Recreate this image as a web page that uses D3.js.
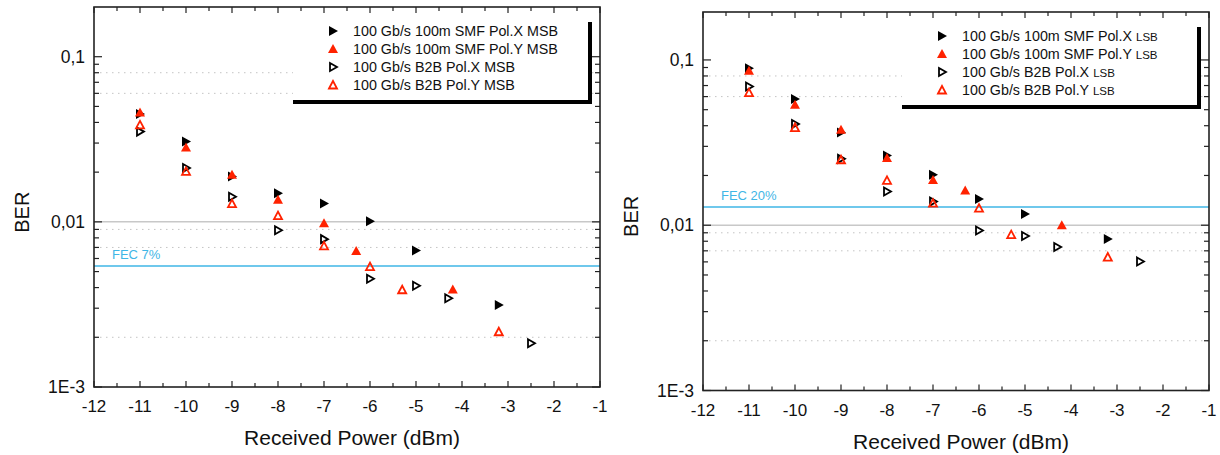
<!DOCTYPE html>
<html>
<head>
<meta charset="utf-8">
<script src="https://cdn.jsdelivr.net/npm/d3@7"></script>
<style>
body {margin: 0; background: #fff;}
text {font-family: "Liberation Sans", Arial, sans-serif;}
</style>
</head>
<body>
<svg id="chart" width="1220" height="455"></svg>
<script>
// axis ticks
var xTicks = [-12, -11, -10, -9, -8, -7, -6, -5, -4, -3, -2, -1];
var yTicks = [0.1, 0.01, 0.001];
var yTickLabels = ["0,1", "0,01", "1E-3"];
var yMinor = [0.002, 0.003, 0.004, 0.005, 0.006, 0.007, 0.008, 0.009,
              0.02, 0.03, 0.04, 0.05, 0.06, 0.07, 0.08, 0.09];
var dottedGrid = [0.08, 0.06, 0.009, 0.007, 0.002];
var solidGrid = [0.01];

// MSB (left panel), [received power dBm, BER]
var msbSmfX = [[-11, 0.045], [-10, 0.0307], [-9, 0.0188], [-8, 0.0149], [-7, 0.0129], [-6, 0.0101], [-5, 0.0067], [-3.2, 0.00314]];
var msbSmfY = [[-11, 0.046], [-10, 0.0282], [-9, 0.0193], [-8, 0.0136], [-7, 0.0098], [-6.3, 0.00667], [-4.2, 0.0039]];
var msbB2bX = [[-11, 0.0352], [-10, 0.0212], [-9, 0.0142], [-8, 0.0089], [-7, 0.00786], [-6, 0.00452], [-5, 0.0041], [-4.3, 0.00345], [-2.5, 0.00184]];
var msbB2bY = [[-11, 0.0387], [-10, 0.0202], [-9, 0.0129], [-8, 0.0109], [-7, 0.00716], [-6, 0.00536], [-5.3, 0.00388], [-3.2, 0.00216]];
var msbLabels = ["100 Gb/s 100m SMF Pol.X MSB", "100 Gb/s 100m SMF Pol.Y MSB",
                 "100 Gb/s B2B Pol.X MSB", "100 Gb/s B2B Pol.Y MSB"];
var msbFec = 0.0054, msbFecLabel = "FEC 7%";

// LSB (right panel)
var lsbSmfX = [[-11, 0.0891], [-10, 0.058], [-9, 0.0364], [-8, 0.0264], [-7, 0.0202], [-6, 0.0144], [-5, 0.0117], [-3.2, 0.00826]];
var lsbSmfY = [[-11, 0.0861], [-10, 0.0535], [-9, 0.0378], [-8, 0.0255], [-7, 0.0188], [-6.3, 0.0162], [-4.2, 0.0100]];
var lsbB2bX = [[-11, 0.069], [-10, 0.041], [-9, 0.0252], [-8, 0.016], [-7, 0.0139], [-6, 0.0093], [-5, 0.0086], [-4.3, 0.00738], [-2.5, 0.00604]];
var lsbB2bY = [[-11, 0.0634], [-10, 0.039], [-9, 0.0249], [-8, 0.0187], [-7, 0.0136], [-6, 0.0127], [-5.3, 0.00877], [-3.2, 0.00642]];
var lsbLabels = ["100 Gb/s 100m SMF Pol.X LSB", "100 Gb/s 100m SMF Pol.Y LSB",
                 "100 Gb/s B2B Pol.X LSB", "100 Gb/s B2B Pol.Y LSB"];
var lsbFec = 0.0129, lsbFecLabel = "FEC 20%";

var red = "#ff2200";
var blue = "#3fb6e6";

// marker shapes, centred on 0,0
var shapes = {
	rightFill: "M-4,-5L5,0L-4,5Z",
	upFill: "M-5,4L0,-5L5,4Z",
	rightOpen: "M-3,-4L4,0L-3,4Z",
	upOpen: "M-4,3.5L0,-4L4,3.5Z"
};
var styles = [
	{shape: "rightFill", fill: "#000", stroke: "none"},
	{shape: "upFill", fill: red, stroke: "none"},
	{shape: "rightOpen", fill: "none", stroke: "#000"},
	{shape: "upOpen", fill: "none", stroke: red}
];

var svg = d3.select("#chart");

function drawPanel(p) {
	var g = svg.append("g").attr("transform", "translate(" + p.left + "," + p.top + ")");
	var w = p.width, h = p.height;

	var x = d3.scaleLinear().domain([-12, -1]).range([0, w]);
	var y = d3.scaleLog().domain([0.001, p.yTop]).range([h, 0]);

	// grid
	g.selectAll(".dotgrid").data(dottedGrid).enter().append("line")
		.attr("x1", 0).attr("x2", w)
		.attr("y1", d => y(d)).attr("y2", d => y(d))
		.attr("stroke", "#c4c4c4").attr("stroke-width", 1)
		.attr("stroke-dasharray", "1.5,4.5");
	g.selectAll(".solidgrid").data(solidGrid).enter().append("line")
		.attr("x1", 0).attr("x2", w)
		.attr("y1", d => y(d)).attr("y2", d => y(d))
		.attr("stroke", "#c8c8c8").attr("stroke-width", 1.5);

	// FEC threshold
	g.append("line")
		.attr("x1", 0).attr("x2", w)
		.attr("y1", y(p.fec)).attr("y2", y(p.fec))
		.attr("stroke", blue).attr("stroke-width", 1.5);
	g.append("text")
		.attr("x", 18).attr("y", y(p.fec) - 7)
		.attr("font-size", 13).attr("fill", blue)
		.text(p.fecLabel);

	// legend, white box with heavy shadow edge
	var lx = 199, lw = 298;
	g.append("rect").attr("x", lx).attr("y", 3).attr("width", lw).attr("height", 91)
		.attr("fill", "#fff");
	g.append("line").attr("x1", lx).attr("x2", lx + lw + 1).attr("y1", 95).attr("y2", 95)
		.attr("stroke", "#000").attr("stroke-width", 4);
	g.append("line").attr("x1", lx + lw - 1).attr("x2", lx + lw - 1).attr("y1", 15).attr("y2", 97)
		.attr("stroke", "#000").attr("stroke-width", 4);
	p.labels.forEach(function(lab, i) {
		var ly = 24 + i * 18;
		var st = styles[i];
		g.append("path")
			.attr("d", shapes[st.shape])
			.attr("transform", "translate(239," + ly + ")")
			.attr("fill", st.fill).attr("stroke", st.stroke).attr("stroke-width", 1.8);
		var t = g.append("text").attr("x", 259).attr("y", ly + 5).attr("font-size", 14.3).attr("fill", "#111");
		var cut = lab.lastIndexOf(" ");
		t.append("tspan").text(lab.slice(0, cut + 1));
		t.append("tspan").attr("font-size", p.suffixSize).text(lab.slice(cut + 1));
	});

	// data markers
	p.series.forEach(function(data, i) {
		var st = styles[i];
		g.append("g").selectAll("path").data(data).enter().append("path")
			.attr("d", shapes[st.shape])
			.attr("transform", d => "translate(" + x(d[0]) + "," + y(d[1]) + ")")
			.attr("fill", st.fill).attr("stroke", st.stroke).attr("stroke-width", 1.8);
	});

	// ticks on all four sides, pointing inward
	var xMinor = d3.range(-11.5, -1, 1);
	var ax = g.append("g").attr("stroke", "#222");
	[[xTicks, 6], [xMinor, 4]].forEach(function(set) {
		set[0].forEach(function(v) {
			ax.append("line").attr("x1", x(v)).attr("x2", x(v)).attr("y1", h).attr("y2", h - set[1]).attr("stroke-width", 1.2);
			ax.append("line").attr("x1", x(v)).attr("x2", x(v)).attr("y1", 0).attr("y2", set[1]).attr("stroke-width", 1.2);
		});
	});
	[[yTicks, 8], [yMinor, 5]].forEach(function(set) {
		set[0].forEach(function(v) {
			ax.append("line").attr("x1", 0).attr("x2", set[1]).attr("y1", y(v)).attr("y2", y(v)).attr("stroke-width", 1.2);
			ax.append("line").attr("x1", w).attr("x2", w - set[1]).attr("y1", y(v)).attr("y2", y(v)).attr("stroke-width", 1.2);
		});
	});

	// frame
	g.append("rect").attr("x", 0).attr("y", 0).attr("width", w).attr("height", h)
		.attr("fill", "none").attr("stroke", "#222").attr("stroke-width", 1.6);

	// tick labels
	g.selectAll(".xl").data(xTicks).enter().append("text")
		.attr("x", d => x(d)).attr("y", h + 25)
		.attr("text-anchor", "middle").attr("font-size", 17).attr("fill", "#111")
		.text(d => d);
	g.selectAll(".yl").data(yTicks).enter().append("text")
		.attr("x", -9).attr("y", d => y(d) + 6)
		.attr("text-anchor", "end").attr("font-size", 17.5).attr("fill", "#111")
		.text((d, i) => yTickLabels[i]);

	// axis titles
	g.append("text")
		.attr("x", w / 2 + 5).attr("y", h + 58)
		.attr("text-anchor", "middle").attr("font-size", 21).attr("fill", "#111")
		.text("Received Power (dBm)");
	g.append("text")
		.attr("transform", "translate(" + (-65) + "," + (h * 0.54) + ") rotate(-90)")
		.attr("text-anchor", "middle").attr("font-size", 20).attr("fill", "#111")
		.text("BER");
}

drawPanel({left: 94, top: 7, width: 506, height: 380, yTop: 0.2,
	series: [msbSmfX, msbSmfY, msbB2bX, msbB2bY], labels: msbLabels,
	fec: msbFec, fecLabel: msbFecLabel, suffixSize: 14.3});
drawPanel({left: 703, top: 12, width: 506, height: 378.5, yTop: 0.195,
	series: [lsbSmfX, lsbSmfY, lsbB2bX, lsbB2bY], labels: lsbLabels,
	fec: lsbFec, fecLabel: lsbFecLabel, suffixSize: 11.5});
</script>
</body>
</html>
